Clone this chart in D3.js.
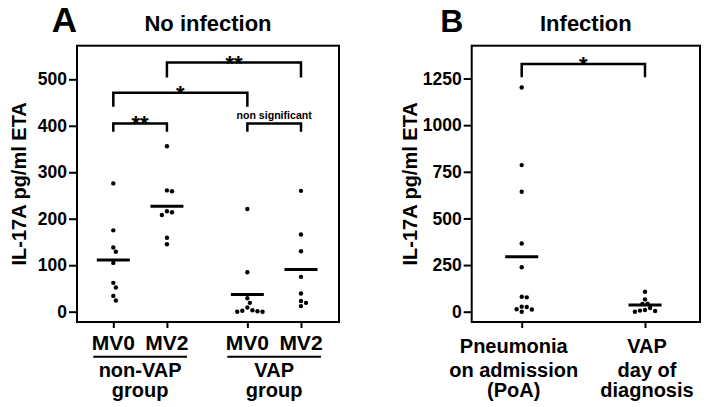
<!DOCTYPE html>
<html><head><meta charset="utf-8">
<script src="https://cdn.jsdelivr.net/npm/d3@7"></script>
<style>
body{margin:0;background:#fff}
text{font-family:"Liberation Sans",Arial,Helvetica,sans-serif;font-weight:bold;fill:#000}
</style>
</head><body>
<svg id="c" width="706" height="407"></svg>
<script>
// ---------- Data ----------
// Panel A: No infection
const groupsA = ["non-VAP", "VAP"];
const timesA = ["MV0", "MV2"];
const nonVapMV0 = [276, 175, 138, 129, 105, 62, 52, 34, 24];
const nonVapMV2 = [356, 261, 259, 216, 214, 208, 159, 145];
const vapMV0 = [221, 85, 29, 19, 9, 3, 1, 0, 2, 0];
const vapMV2 = [260, 166, 130, 75, 39, 23, 19, 12];
const meansA = [111, 227, 37, 91];
const yTicksA = [0, 100, 200, 300, 400, 500];
const bracketsA = [
  {from: 1, to: 3, level: 536, end: 504, label: "**"},
  {from: 0, to: 2, level: 471, end: 441, label: "*"},
  {from: 0, to: 1, level: 405, end: 387, label: "**"},
  {from: 2, to: 3, level: 405, end: 387, label: "non significant"}
];

// Panel B: Infection
const catsB = [["Pneumonia", "on admission", "(PoA)"], ["VAP", "day of", "diagnosis"]];
const poa = [1202, 786, 643, 366, 238, 80, 77, 27, 25, 13, 12, 0];
const vapDiag = [107, 66, 43, 41, 20, 9, 6, 4, 0];
const meansB = [295, 36];
const yTicksB = [0, 250, 500, 750, 1000, 1250];
const bracketsB = [{from: 0, to: 1, level: 1328, end: 1257, label: "*"}];

const yLabel = "IL-17A pg/ml ETA";

// ---------- Drawing ----------
const svg = d3.select("#c");
svg.append("rect").attr("width", 706).attr("height", 407).attr("fill", "#fff");

function swarm(vals, cx, y, r) {
  const placed = [];
  const order = vals.map((v, i) => i).sort((a, b) => vals[b] - vals[a]);
  const step = r * 1.15;
  order.forEach(i => {
    const py = y(vals[i]);
    for (let k = 0; k < 40; k++) {
      const off = (k % 2 ? 1 : -1) * Math.ceil(k / 2) * step;
      const px = cx + off;
      if (placed.every(p => Math.hypot(p[0] - px, p[1] - py) >= 2 * r + 0.4)) {
        placed.push([px, py]);
        break;
      }
    }
  });
  return placed;
}

function panel(cfg) {
  const g = svg.append("g");
  const x = d3.scaleLinear().domain(cfg.xDomain).range([cfg.left, cfg.right]);
  const y = d3.scaleLinear().domain(cfg.yDomain).range([cfg.bottom, cfg.top]);

  // y axis
  const ya = g.append("g").attr("transform", `translate(${cfg.left},0)`)
    .call(d3.axisLeft(y).tickValues(cfg.yTicks).tickSize(8).tickPadding(2).tickFormat(d3.format("d")));
  ya.select(".domain").remove();
  ya.selectAll(".tick line").attr("stroke", "#000").attr("stroke-width", 2);
  ya.selectAll(".tick text").style("font-size", "17.5px").attr("fill", "#000")
    .style("font-family", '"Liberation Sans",Arial,sans-serif').style("font-weight", "bold");

  // x ticks
  const xa = g.append("g").attr("transform", `translate(0,${cfg.bottom})`)
    .call(d3.axisBottom(x).tickValues(cfg.slots).tickSize(6).tickFormat(""));
  xa.select(".domain").remove();
  xa.selectAll(".tick line").attr("stroke", "#000").attr("stroke-width", 2);

  // frame
  g.append("rect").attr("x", cfg.left).attr("y", cfg.top)
    .attr("width", cfg.right - cfg.left).attr("height", cfg.bottom - cfg.top)
    .attr("fill", "none").attr("stroke", "#000").attr("stroke-width", 2);

  // points
  cfg.series.forEach((vals, i) => {
    const pts = swarm(vals, x(cfg.slots[i]), y, 2.2);
    g.append("g").selectAll("circle").data(pts).join("circle")
      .attr("cx", d => d[0]).attr("cy", d => d[1]).attr("r", 2.2).attr("fill", "#000");
  });

  // mean lines
  g.append("g").selectAll("line").data(cfg.means).join("line")
    .attr("x1", (d, i) => x(cfg.slots[i]) - 16.5)
    .attr("x2", (d, i) => x(cfg.slots[i]) + 16.5)
    .attr("y1", d => y(d)).attr("y2", d => y(d))
    .attr("stroke", "#000").attr("stroke-width", 3);

  // brackets
  cfg.brackets.forEach(b => {
    const x1 = x(cfg.slots[b.from]), x2 = x(cfg.slots[b.to]);
    g.append("path")
      .attr("d", `M${x1},${y(b.end)}V${y(b.level)}H${x2}V${y(b.end)}`)
      .attr("fill", "none").attr("stroke", "#000").attr("stroke-width", 2.5);
    const star = b.label.indexOf("*") >= 0;
    g.append("text").attr("x", (x1 + x2) / 2)
      .attr("y", y(b.level) + (star ? 8 : -4.8))
      .attr("text-anchor", "middle")
      .style("font-size", star ? "22px" : "10.6px")
      .text(b.label);
  });

  // y label
  g.append("text")
    .attr("transform", `translate(${cfg.yLabelX},${(cfg.top + cfg.bottom) / 2}) rotate(-90)`)
    .attr("text-anchor", "middle").style("font-size", "20px").text(yLabel);

  // titles
  g.append("text").attr("x", cfg.letterX).attr("y", 31.7).attr("text-anchor", "middle")
    .style("font-size", cfg.letterSize + "px").text(cfg.letter);
  g.append("text").attr("x", (cfg.left + cfg.right) / 2).attr("y", 30.7).attr("text-anchor", "middle")
    .style("font-size", "22px").text(cfg.title);

  return {g, x, y};
}

// Panel A
const slotsA = [];
groupsA.forEach((gName, gi) => timesA.forEach((t, ti) => slotsA.push(1 + gi * 2.5 + ti)));
const pA = panel({
  left: 77, right: 339, top: 45.7, bottom: 322,
  xDomain: [0.323, 5.209], yDomain: [-22.2, 572.3],
  slots: slotsA, yTicks: yTicksA,
  series: [nonVapMV0, nonVapMV2, vapMV0, vapMV2], means: meansA,
  brackets: bracketsA, yLabelX: 26, letter: "A", letterX: 64.5, letterSize: 35,
  title: "No infection"
});
groupsA.forEach((gName, gi) => {
  const xa = pA.x(slotsA[gi * 2]), xb = pA.x(slotsA[gi * 2 + 1]);
  timesA.forEach((t, ti) => {
    pA.g.append("text").attr("x", pA.x(slotsA[gi * 2 + ti])).attr("y", 350)
      .attr("text-anchor", "middle").style("font-size", "21px").text(t);
  });
  pA.g.append("line").attr("x1", xa - 20).attr("x2", xb + 20)
    .attr("y1", 356.7).attr("y2", 356.7).attr("stroke", "#000").attr("stroke-width", 2);
  pA.g.append("text").attr("x", (xa + xb) / 2).attr("y", 377.3)
    .attr("text-anchor", "middle").style("font-size", "20px").text(gName);
  pA.g.append("text").attr("x", (xa + xb) / 2).attr("y", 397.3)
    .attr("text-anchor", "middle").style("font-size", "20px").text("group");
});

// Panel B
const slotsB = catsB.map((c, i) => i);
const pB = panel({
  left: 471.7, right: 700, top: 45.7, bottom: 322,
  xDomain: [-0.4055, 1.446], yDomain: [-55.2, 1426],
  slots: slotsB, yTicks: yTicksB,
  series: [poa, vapDiag], means: meansB,
  brackets: bracketsB, yLabelX: 417, letter: "B", letterX: 451.7, letterSize: 32,
  title: "Infection"
});
const dxB = [-8, 2];
const lineYB = [353.3, 376.7, 396.7];
catsB.forEach((lines, i) => {
  lines.forEach((t, li) => {
    pB.g.append("text").attr("x", pB.x(slotsB[i]) + dxB[i]).attr("y", lineYB[li])
      .attr("text-anchor", "middle").style("font-size", "20px").text(t);
  });
});
</script>
</body></html>
